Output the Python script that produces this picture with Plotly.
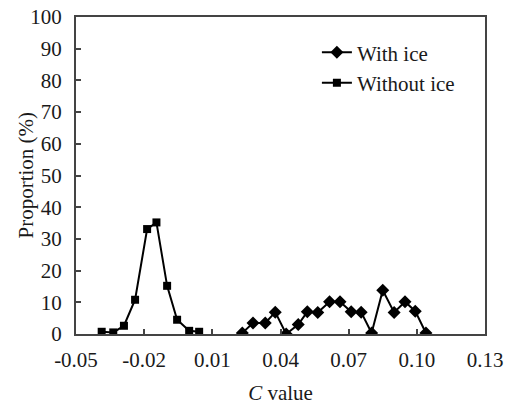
import plotly.graph_objects as go

# Data
without_ice_x = [-0.0387, -0.0336, -0.0289, -0.0240, -0.0187, -0.0146, -0.0099, -0.0055, -0.0002, 0.0042]
without_ice_y = [0.7, 0.5, 2.6, 10.8, 33.1, 35.2, 15.2, 4.5, 1.0, 0.7]

with_ice_x = [0.0232, 0.0279, 0.0333, 0.0377, 0.0425, 0.0478, 0.0518, 0.0564, 0.0616,
              0.0662, 0.0711, 0.0755, 0.0801, 0.0850, 0.0900, 0.0948, 0.0993, 0.1040]
with_ice_y = [0.3, 3.5, 3.5, 6.9, 0.0, 3.0, 7.0, 6.8, 10.2, 10.2, 7.0, 6.9, 0.3, 13.8, 6.8, 10.2, 7.2, 0.3]

x_ticks = [-0.05, -0.02, 0.01, 0.04, 0.07, 0.10, 0.13]
x_tick_labels = ["-0.05", "-0.02", "0.01", "0.04", "0.07", "0.10", "0.13"]
y_ticks = [0, 10, 20, 30, 40, 50, 60, 70, 80, 90, 100]

font_family = "Liberation Serif"
FS = 21

fig = go.Figure()
fig.add_trace(go.Scatter(
    x=with_ice_x, y=with_ice_y, mode="lines+markers", name="With ice",
    line=dict(color="black", width=2),
    marker=dict(symbol="diamond", size=10, color="black"),
))
fig.add_trace(go.Scatter(
    x=without_ice_x, y=without_ice_y, mode="lines+markers", name="Without ice",
    line=dict(color="black", width=2),
    marker=dict(symbol="square", size=8, color="black"),
))

fig.update_layout(
    width=510, height=405,
    margin=dict(l=76, r=25, t=17, b=71),
    paper_bgcolor="white", plot_bgcolor="white",
    font=dict(family=font_family, size=FS, color="#1a1a1a"),
    showlegend=True,
    legend=dict(x=0.589, y=0.952, xanchor="left", yanchor="top",
                bgcolor="rgba(0,0,0,0)", font=dict(size=FS),
                tracegroupgap=0),
    annotations=[dict(
        text="Proportion (%)", textangle=-90, showarrow=False,
        xref="paper", yref="paper", x=-51 / 409, y=0.5,
        xanchor="center", yanchor="middle", font=dict(size=FS),
    )],
)
fig.update_xaxes(
    range=[-0.05, 0.13], tickvals=x_ticks, ticktext=x_tick_labels,
    showline=True, linecolor="#444", linewidth=2, mirror=True,
    ticks="inside", ticklen=5, tickwidth=1.5, tickcolor="#444",
    showgrid=False, zeroline=False, ticklabelstandoff=6, automargin=False,
    title=dict(text="<i>C</i> value", font=dict(size=FS), standoff=14),
)
fig.update_yaxes(
    range=[0, 100], tickvals=y_ticks,
    showline=True, linecolor="#444", linewidth=2, mirror=True,
    ticks="inside", ticklen=5, tickwidth=1.5, tickcolor="#444",
    showgrid=False, zeroline=False, ticklabelstandoff=8, automargin=False,
)

fig.write_html("out.html")
